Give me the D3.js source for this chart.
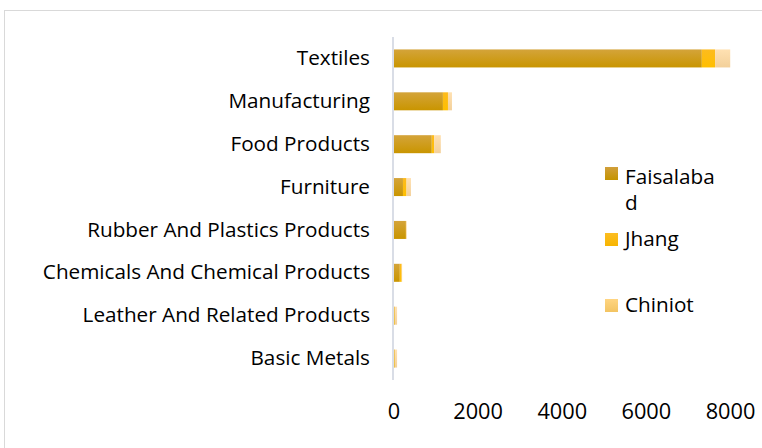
<!DOCTYPE html>
<html><head><meta charset="utf-8">
<script src="https://cdn.jsdelivr.net/npm/d3@7"></script>
<style>html,body{margin:0;padding:0;background:#fff;}svg{display:block;}</style>
</head><body>
<svg id="chart" width="762" height="448"></svg>
<script>
const categories = ["Textiles","Manufacturing","Food Products","Furniture","Rubber And Plastics Products","Chemicals And Chemical Products","Leather And Related Products","Basic Metals"];
const seriesNames = ["Faisalabad","Jhang","Chiniot"];
const faisalabad = [7330,1175,910,225,295,150,25,25];
const jhang = [315,120,55,85,5,45,10,10];
const chiniot = [360,95,160,105,15,10,50,50];
const xTicks = [0,2000,4000,6000,8000];

const FONT = "'Open Sans', 'Noto Sans', sans-serif";
const svg = d3.select("#chart");
const defs = svg.append("defs");
const grads = [
  {id:"gF", top:"#d4a43a", bot:"#c99500", legTop:"#d19f3a", legBot:"#c49300"},
  {id:"gJ", top:"#fdbb1e", bot:"#ffbf00", legTop:"#fcbd22", legBot:"#f7b500"},
  {id:"gC", top:"#ffe1b2", bot:"#f3d09a", legTop:"#ffd581", legBot:"#f3c462"}
];
grads.forEach(g=>{
  const lg = defs.append("linearGradient").attr("id",g.id).attr("x1",0).attr("y1",0).attr("x2",0).attr("y2",1);
  lg.append("stop").attr("offset","0%").attr("stop-color",g.top);
  lg.append("stop").attr("offset","100%").attr("stop-color",g.bot);
  const lg2 = defs.append("linearGradient").attr("id",g.id+"L").attr("x1",0).attr("y1",0).attr("x2",0).attr("y2",1);
  lg2.append("stop").attr("offset","0%").attr("stop-color",g.legTop);
  lg2.append("stop").attr("offset","100%").attr("stop-color",g.legBot);
});

// outer frame
svg.append("rect").attr("x",4.5).attr("y",10.5).attr("width",760).attr("height",440)
  .attr("fill","#fff").attr("stroke","#d9d9d9").attr("stroke-width",1);

const x = d3.scaleLinear().domain([0,8000]).range([393.5,730]);
const y = d3.scaleBand().domain(categories).range([37,380]).paddingInner(0.58).paddingOuter(0.29);

const rows = categories.map((c,i)=>({cat:c, Faisalabad:faisalabad[i], Jhang:jhang[i], Chiniot:chiniot[i]}));
const stack = d3.stack().keys(seriesNames)(rows);

svg.append("g").selectAll("g").data(stack).join("g")
  .attr("fill",(d,i)=>`url(#${grads[i].id})`)
  .selectAll("rect").data(d=>d).join("rect")
  .attr("x",d=>x(d[0])).attr("width",d=>Math.max(0,x(d[1])-x(d[0])))
  .attr("y",d=>y(d.data.cat)).attr("height",y.bandwidth());

// y axis line
svg.append("line").attr("x1",393).attr("x2",393).attr("y1",37).attr("y2",380)
  .attr("stroke","#d9dde6").attr("stroke-width",2);

// category labels
const yAxis = svg.append("g").attr("transform","translate(393,0)")
  .call(d3.axisLeft(y).tickSize(0).tickPadding(23));
yAxis.select(".domain").remove();
const yt = yAxis.selectAll("text").attr("font-family",FONT).attr("font-size","18px").attr("fill","#000");
let w = 0; yt.each(function(){ if (this.textContent.startsWith("Rubber")) w = this.getComputedTextLength(); });
const catSize = w ? 18*283/w : 18;
yt.attr("font-size", catSize+"px");

// x axis labels
const xAxis = svg.append("g").attr("transform","translate(0,401)")
  .call(d3.axisBottom(x).tickValues(xTicks).tickFormat(d3.format("d")).tickSize(0).tickPadding(3));
xAxis.select(".domain").remove();
xAxis.selectAll("text").attr("font-family",FONT).attr("font-size",(catSize*1.05)+"px").attr("fill","#000");

// legend
const legendItems = [
  {lines:["Faisalaba","d"], sqY:167, textY:[184,210]},
  {lines:["Jhang"], sqY:233, textY:[246]},
  {lines:["Chiniot"], sqY:299, textY:[312]}
];
const lg = svg.append("g");
legendItems.forEach((it,i)=>{
  lg.append("rect").attr("x",605).attr("y",it.sqY).attr("width",13).attr("height",13)
    .attr("fill",`url(#${grads[i].id}L)`);
  const t = lg.append("text").attr("font-family",FONT).attr("font-size",catSize+"px").attr("fill","#000");
  it.lines.forEach((l,j)=>t.append("tspan").attr("x",625).attr("y",it.textY[j]).text(l));
});
</script>
</body></html>
